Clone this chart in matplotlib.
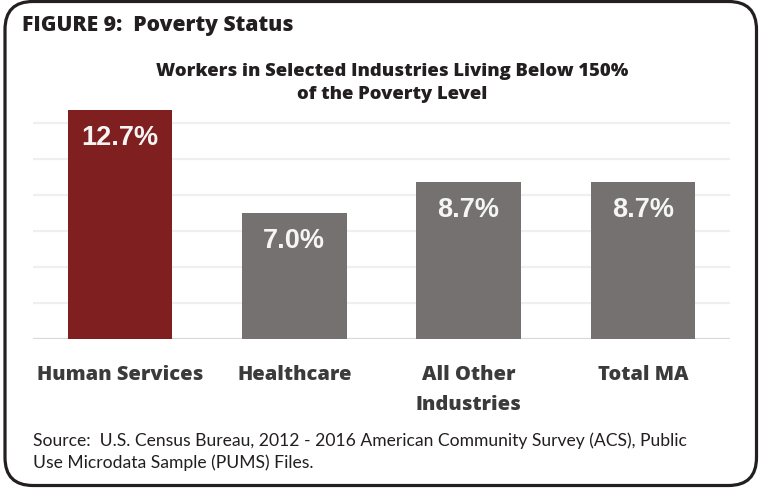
import matplotlib
matplotlib.use("Agg")
import matplotlib.pyplot as plt
from matplotlib.patches import FancyBboxPatch

# Data
categories = ["Human Services", "Healthcare", "All Other\nIndustries", "Total MA"]
values = [12.7, 7.0, 8.7, 8.7]
value_labels = ["12.7%", "7.0%", "8.7%", "8.7%"]
bar_colors = ["#7F1F1F", "#767171", "#767171", "#767171"]
grid_ticks = [0, 2, 4, 6, 8, 10, 12]

header = "FIGURE 9:  Poverty Status"
title = "Workers in Selected Industries Living Below 150%\nof the Poverty Level"
source = ("Source:  U.S. Census Bureau, 2012 - 2016 American Community Survey (ACS), Public\n"
          "Use Microdata Sample (PUMS) Files.")

W, H = 760, 489
fig = plt.figure(figsize=(W / 100, H / 100), dpi=100)
fig.patch.set_facecolor("white")

# Full-figure overlay in pixel units for the frame and page text
page = fig.add_axes([0, 0, 1, 1], zorder=0)
page.set_xlim(0, W)
page.set_ylim(H, 0)
page.axis("off")

frame = FancyBboxPatch((5, 2.5), 751.5, 484, boxstyle="round,pad=0,rounding_size=28",
                       linewidth=2.3, edgecolor="#231F20", facecolor="none")
page.add_patch(frame)

bold_sans = ["Open Sans", "DejaVu Sans"]
reg_sans = ["Lato", "DejaVu Sans"]
page.text(22, 25, header, fontsize=15.2, fontweight=800, color="#231F20",
          family=bold_sans, va="center", ha="left")
page.text(392, 83, title, fontsize=13.3, fontweight=800, color="#231F20",
          family=bold_sans, va="center", ha="center", linespacing=1.5)
page.text(33, 452, source, fontsize=12.6, color="#231F20",
          family=reg_sans, va="center", ha="left", linespacing=1.4)

# Bar chart axes
left_px, right_px, base_px, ymax = 33, 730, 340, 13.0
px_per_unit = 18.0
ax_h = ymax * px_per_unit
ax = fig.add_axes([left_px / W, 1 - base_px / H, (right_px - left_px) / W, ax_h / H], zorder=1)
ax.patch.set_alpha(0)

x = list(range(len(categories)))
bars = ax.bar(x, values, width=0.6, color=bar_colors, zorder=3)
ax.set_xlim(-0.5, len(categories) - 0.5)
ax.set_ylim(0, ymax)

for gy in grid_ticks:
    ax.axhline(gy, color="#D9D9D9" if gy == 0 else "#EFEFEF", linewidth=1.6, zorder=1)

for rect, lab in zip(bars, value_labels):
    ax.annotate(lab, (rect.get_x() + rect.get_width() / 2, rect.get_height()),
                xytext=(0, -19.5), textcoords="offset points",
                ha="center", va="center", fontsize=19.5, fontweight="bold",
                color="#F5F5F5", family=["Liberation Sans", "DejaVu Sans"], zorder=4)

for s in ax.spines.values():
    s.set_visible(False)
ax.set_yticks([])
ax.set_xticks(x)
ax.set_xticklabels(categories, fontsize=14.4, fontweight=800, color="#3B3B3B",
                   family=bold_sans, linespacing=1.65, va="top")
ax.tick_params(axis="x", length=0, pad=18)

fig.savefig("out.png", dpi=100, facecolor="white")
